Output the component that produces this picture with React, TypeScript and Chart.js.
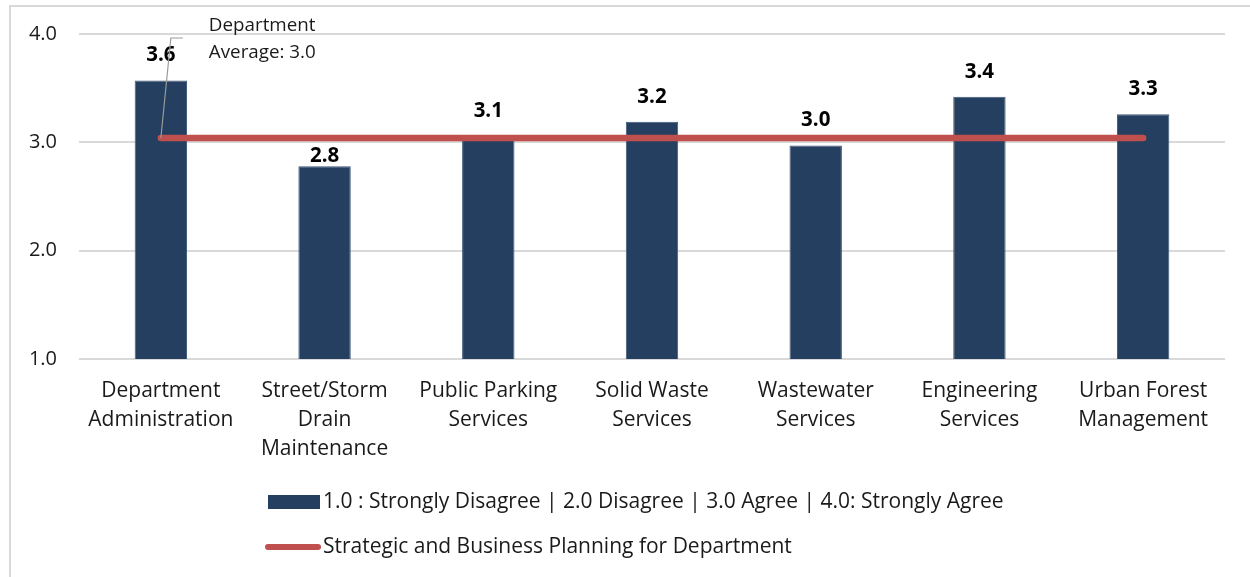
import React, { useEffect, useRef } from 'react';
import { Chart, registerables } from 'chart.js';

Chart.register(...registerables);

const categories: string[][] = [
  ['Department', 'Administration'],
  ['Street/Storm', 'Drain', 'Maintenance'],
  ['Public Parking', 'Services'],
  ['Solid Waste', 'Services'],
  ['Wastewater', 'Services'],
  ['Engineering', 'Services'],
  ['Urban Forest', 'Management'],
];
const scores: number[] = [3.57, 2.78, 3.06, 3.19, 2.97, 3.42, 3.26];
const departmentAverage: number[] = [3.04, 3.04, 3.04, 3.04, 3.04, 3.04, 3.04];
const yTickValues: number[] = [1, 2, 3, 4];
const barLegendLabel = '1.0 : Strongly Disagree | 2.0 Disagree | 3.0 Agree | 4.0: Strongly Agree';
const lineLegendLabel = 'Strategic and Business Planning for Department';
const annotationLines: string[] = ['Department', 'Average: 3.0'];

const FONT = '"Open Sans", Lato, sans-serif';
const NAVY = '#243F60';
const RED = '#C0504D';
const GRID = '#D9D9D9';
const TEXT = '#1a1a1a';

const extrasPlugin = {
  id: 'extras',
  afterDraw(chart: any) {
    const ctx = chart.ctx as CanvasRenderingContext2D;
    const ys = chart.scales.y;
    ctx.save();

    // frame (top and left edges)
    ctx.strokeStyle = GRID;
    ctx.lineWidth = 2;
    ctx.beginPath();
    ctx.moveTo(10, 577);
    ctx.lineTo(10, 6);
    ctx.lineTo(1250, 6);
    ctx.stroke();

    const lineMeta = chart.getDatasetMeta(0);
    const avgY = lineMeta.data[0].y;

    // data labels
    ctx.fillStyle = '#000';
    ctx.font = `bold 20.5px ${FONT}`;
    ctx.textAlign = 'center';
    ctx.textBaseline = 'middle';
    const barMeta = chart.getDatasetMeta(1);
    barMeta.data.forEach((bar: any, i: number) => {
      let y = bar.y - 25;
      if (Math.abs(y - avgY) < 14) y = bar.y - 10;
      ctx.fillText(scores[i].toFixed(1), bar.x, y);
    });

    // annotation leader line
    const p0 = lineMeta.data[0];
    const topY = ys.getPixelForValue(4) + 4;
    ctx.strokeStyle = '#9a9a9a';
    ctx.lineWidth = 1.2;
    ctx.beginPath();
    ctx.moveTo(p0.x, p0.y);
    ctx.lineTo(p0.x + 10, topY);
    ctx.lineTo(p0.x + 22, topY);
    ctx.stroke();

    ctx.fillStyle = TEXT;
    ctx.font = `18.8px ${FONT}`;
    ctx.textAlign = 'left';
    ctx.textBaseline = 'middle';
    annotationLines.forEach((t, i) => {
      ctx.fillText(t, p0.x + 48, 26 + i * 27);
    });

    // legend
    const lx = 268;
    ctx.fillStyle = NAVY;
    ctx.fillRect(lx, 495, 52, 14);
    ctx.fillStyle = TEXT;
    ctx.font = `21px ${FONT}`;
    ctx.textBaseline = 'middle';
    ctx.fillText(barLegendLabel, lx + 55, 502);

    ctx.strokeStyle = RED;
    ctx.lineWidth = 6;
    ctx.lineCap = 'round';
    ctx.beginPath();
    ctx.moveTo(lx, 547);
    ctx.lineTo(lx + 50, 547);
    ctx.stroke();
    ctx.fillText(lineLegendLabel, lx + 55, 547);

    ctx.restore();
  },
};

export default function App() {
  const canvasRef = useRef<HTMLCanvasElement | null>(null);

  useEffect(() => {
    document.body.style.margin = '0';
    const canvas = canvasRef.current;
    if (!canvas) return;
    const chart = new Chart(canvas, {
      type: 'bar',
      data: {
        labels: categories,
        datasets: [
          {
            type: 'line',
            label: lineLegendLabel,
            data: departmentAverage,
            borderColor: RED,
            backgroundColor: RED,
            borderWidth: 6.5,
            borderCapStyle: 'round',
            pointRadius: 0,
            order: 0,
          } as any,
          {
            type: 'bar',
            label: barLegendLabel,
            data: scores,
            backgroundColor: NAVY,
            borderColor: '#3d5878',
            borderWidth: 1,
            categoryPercentage: 1,
            barPercentage: 0.32,
            order: 1,
          } as any,
        ],
      },
      options: {
        animation: false,
        responsive: true,
        maintainAspectRatio: false,
        layout: { padding: { left: 10, top: 34, right: 25, bottom: 108 } },
        plugins: {
          legend: { display: false },
          tooltip: { enabled: false },
        },
        scales: {
          x: {
            offset: true,
            grid: { display: false },
            border: { display: false },
            ticks: {
              color: TEXT,
              font: { family: FONT, size: 21, lineHeight: 1.38 },
              padding: 10,
              maxRotation: 0,
              autoSkip: false,
            },
            afterFit(scale: any) {
              scale.height = 110;
            },
          },
          y: {
            min: 1,
            max: 4,
            afterBuildTicks(scale: any) {
              scale.ticks = yTickValues.map((v) => ({ value: v }));
            },
            grid: { color: GRID, lineWidth: 2, drawTicks: false },
            border: { display: false },
            ticks: {
              color: TEXT,
              font: { family: FONT, size: 20 },
              padding: 22,
              callback: (v: any) => Number(v).toFixed(1),
            },
            afterFit(scale: any) {
              scale.width = 69;
            },
          },
        },
      },
      plugins: [extrasPlugin],
    });
    return () => chart.destroy();
  }, []);

  return (
    <div style={{ width: 1250, height: 577, position: 'relative', background: '#fff' }}>
      <canvas ref={canvasRef} />
    </div>
  );
}
